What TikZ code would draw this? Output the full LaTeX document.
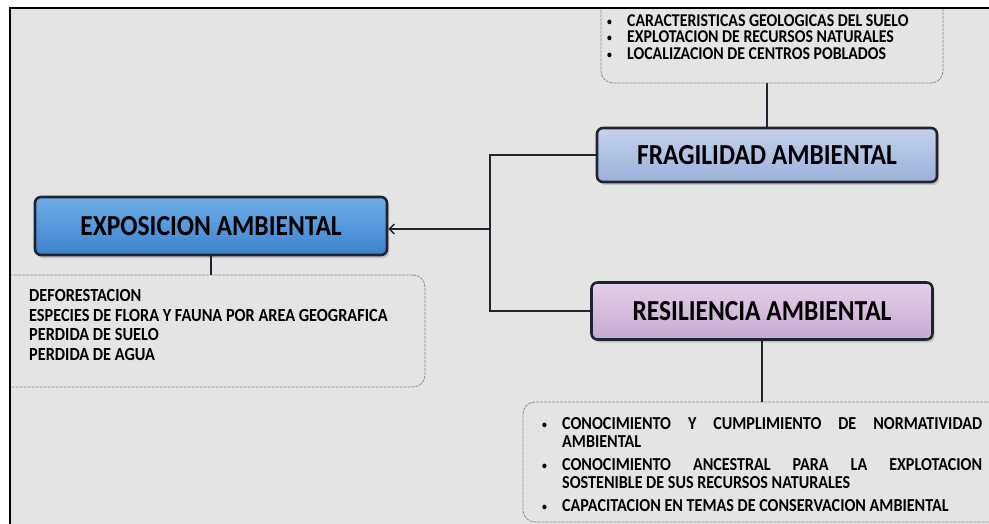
\documentclass[tikz,border=0pt]{standalone}
\usepackage{fontspec}
\setmainfont{Carlito}[FakeStretch=0.88]
\usepackage{xcolor}
\usepackage{tikz}
\usetikzlibrary{arrows.meta,shadows}
\definecolor{paper}{HTML}{E4E4E4}
\definecolor{ink}{HTML}{1E2430}
\definecolor{expotop}{HTML}{6FAEE8}
\definecolor{expobot}{HTML}{3D82CE}
\definecolor{fragtop}{HTML}{C4D2EC}
\definecolor{fragbot}{HTML}{9CB0DA}
\definecolor{restop}{HTML}{E4D0E8}
\definecolor{resbot}{HTML}{C6A9CF}
\tikzstyle{head}=[draw=ink, line width=2.6pt, rounded corners=6pt, font=\fontsize{29}{32}\selectfont\bfseries, drop shadow={opacity=0.35, shadow xshift=2pt, shadow yshift=-3pt}]
\tikzstyle{list box}=[draw=black!45, dash pattern=on 3pt off 1pt, line width=0.8pt, rounded corners=12pt, fill=paper]
\tikzstyle{list}=[font=\bfseries, inner sep=0pt]
\tikzstyle{link}=[-, draw=ink, line width=1.4pt]
\tikzstyle{arrow link}=[-{Straight Barb[length=5pt,width=10pt]}, draw=ink, line width=1.4pt]
\newcommand{\smalldot}{\makebox[20pt][l]{\fontsize{11}{11}\selectfont\raisebox{1pt}{\textbullet}}}
\newcommand{\dotitem}[1]{\noindent\hangindent=20pt\hangafter=1\smalldot#1\par}
\pgfdeclarelayer{bglayer}
\pgfdeclarelayer{nodelayer}
\pgfdeclarelayer{edgelayer}
\pgfsetlayers{bglayer,nodelayer,edgelayer,main}

\begin{document}
\begin{tikzpicture}[x=1pt, y=-1pt]
	\useasboundingbox (0, 0) rectangle (989, 524);
	\begin{pgfonlayer}{bglayer}
		\fill [white] (0, 0) rectangle (989, 524);
		\fill [paper] (10, 8) rectangle (989, 524);
	\end{pgfonlayer}
	\begin{pgfonlayer}{nodelayer}
		\node [style=list box, minimum width=342, minimum height=92] (0) at (772, 37) {};
		\node [style=list, anchor=west, align=left, font=\fontsize{18}{16.8}\selectfont\bfseries] (1) at (607, 37) {\smalldot CARACTERISTICAS GEOLOGICAS DEL SUELO\\ \smalldot EXPLOTACION DE RECURSOS NATURALES\\ \smalldot LOCALIZACION DE CENTROS POBLADOS};
		\node [style=head, top color=fragtop, bottom color=fragbot, minimum width=340, minimum height=54] (2) at (767, 155) {FRAGILIDAD AMBIENTAL};
		\node [style=list box, minimum width=430, minimum height=112] (3) at (210, 331) {};
		\node [style=list, anchor=west, align=left, font=\fontsize{18.5}{19.5}\selectfont\bfseries] (4) at (29, 325) {DEFORESTACION\\ ESPECIES DE FLORA Y FAUNA POR AREA GEOGRAFICA\\ PERDIDA DE SUELO\\ PERDIDA DE AGUA};
		\node [style=list box, minimum width=480, minimum height=120] (5) at (763, 462) {};
		\node [style=list, anchor=base west] (6) at (542, 429) {\parbox[t]{440pt}{\fontsize{18.3}{18}\selectfont\bfseries
			\tolerance=10000 \hyphenpenalty=10000 \parskip=5pt
			\dotitem{CONOCIMIENTO Y CUMPLIMIENTO DE NORMATIVIDAD AMBIENTAL}
			\dotitem{CONOCIMIENTO ANCESTRAL PARA LA EXPLOTACION SOSTENIBLE DE SUS RECURSOS NATURALES}
			\dotitem{CAPACITACION EN TEMAS DE CONSERVACION AMBIENTAL}}};
		\node [style=head, top color=expotop, bottom color=expobot, minimum width=352, minimum height=58] (7) at (211, 226) {EXPOSICION AMBIENTAL};
		\node [style=head, top color=restop, bottom color=resbot, minimum width=341, minimum height=57] (8) at (762, 311) {RESILIENCIA AMBIENTAL};
		\coordinate (9) at (490, 229);
	\end{pgfonlayer}
	\begin{pgfonlayer}{edgelayer}
		\draw [style=link] (2.north) -- (2.north |- 0.south);
		\draw [style=link] (7.south) -- (7.south |- 3.north);
		\draw [style=link] (8.south) -- (8.south |- 5.north);
		\draw [style=link] (2.west) -| (9) |- (8.west);
		\draw [style=arrow link] (9) -- (9 -| 7.east);
	\end{pgfonlayer}
	% white margin and frame on top
	\fill [white] (-20, -20) rectangle (1000, 7);
	\fill [white] (-20, -20) rectangle (9, 540);
	\draw [line width=2pt] (10, 524) -- (10, 8) -- (989, 8);
\end{tikzpicture}
\end{document}
